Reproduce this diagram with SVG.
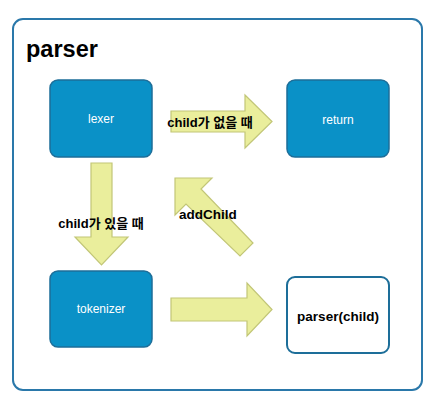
<svg xmlns="http://www.w3.org/2000/svg" width="438" height="406" viewBox="0 0 438 406">
<style>
.node{fill:#0a91c7;stroke:#1d6e99;stroke-width:1.5}
.white{fill:#ffffff;stroke:#1d6e99;stroke-width:2}
.ntext{font-family:"Liberation Sans",Arial,sans-serif;font-size:12px;fill:#ffffff;text-anchor:middle}
.btext{font-family:"Liberation Sans","Noto Sans CJK KR",sans-serif;font-weight:bold;fill:#000000}
.arrow{fill:#eaee9c;stroke:#c2c677;stroke-width:1.2}
</style>
<rect width="438" height="406" fill="#ffffff"/>
<g id="container">
<rect x="13" y="19" width="409" height="371" rx="10" fill="#ffffff" stroke="#2a78aa" stroke-width="2"/>
<text x="26" y="57" class="btext" font-size="23.5">parser</text>
</g>
<g id="connectors">
<polygon class="arrow" points="171,111 245,111 245,95 272,121.5 245,148 245,132 171,132"/>
<polygon class="arrow" points="171,298 247,298 247,283 272,309.5 247,336 247,321 171,321"/>
<polygon class="arrow" points="91,163 112,163 112,237 128,237 101.5,265 75,237 91,237"/>
<polygon class="arrow" points="175,178 212,178 201,189 253,243 240,256 186,204 175,215"/>
<text x="210" y="127" class="btext" font-size="13" text-anchor="middle">child가 없을 때</text>
<text x="101" y="228" class="btext" font-size="13" text-anchor="middle">child가 있을 때</text>
<text x="179" y="219" class="btext" font-size="13.5">addChild</text>
</g>
<g id="lexer">
<rect class="node" x="50" y="80" width="102" height="77" rx="8"/>
<text class="ntext" x="101" y="123">lexer</text>
</g>
<g id="return">
<rect class="node" x="287" y="80" width="102" height="77" rx="8"/>
<text class="ntext" x="338" y="124">return</text>
</g>
<g id="tokenizer">
<rect class="node" x="50" y="271" width="102" height="76" rx="8"/>
<text class="ntext" x="101" y="313">tokenizer</text>
</g>
<g id="parser-child">
<rect class="white" x="287" y="277" width="102" height="76" rx="8"/>
<text class="btext" x="338" y="321" font-size="13.5" text-anchor="middle">parser(child)</text>
</g>
</svg>
